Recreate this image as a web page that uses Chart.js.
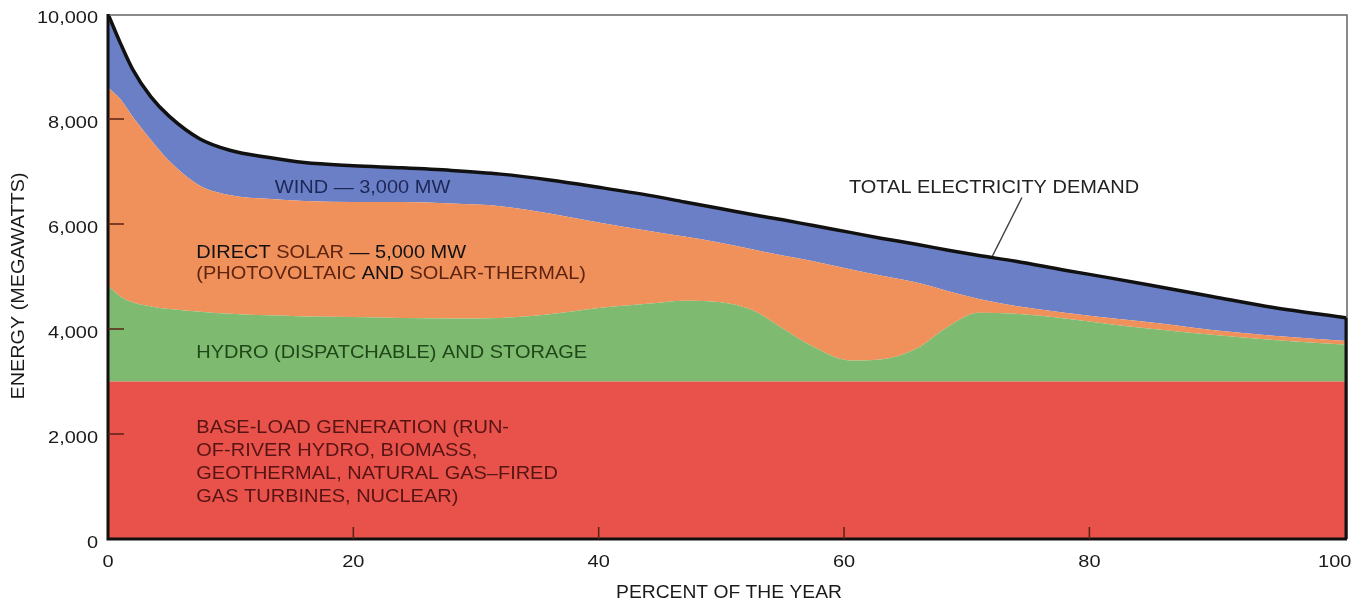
<!DOCTYPE html>
<html>
<head>
<meta charset="utf-8">
<script src="https://cdn.jsdelivr.net/npm/chart.js@4.4.1/dist/chart.umd.min.js"></script>
<style>
  html, body { margin: 0; padding: 0; background: #fff; }
  #wrap { width: 1353px; height: 604px; }
</style>
</head>
<body>
<div id="wrap"><canvas id="chart"></canvas></div>
<script>
// percent of the year (x positions shared by every layer)
const pctOfYear = [0, 1, 2, 3.5, 5, 7.5, 10, 13, 16, 20, 24, 28, 32, 36, 40, 44, 47, 50, 52.5, 55, 57.5, 60.5, 63, 66, 68.5, 71, 74, 78, 82, 86, 90, 95, 101];

// top edge of each layer, in megawatts
const baseLoadMW = [3000, 3000, 3000, 3000, 3000, 3000, 3000, 3000, 3000, 3000, 3000, 3000, 3000, 3000, 3000, 3000, 3000, 3000, 3000, 3000, 3000, 3000, 3000, 3000, 3000, 3000, 3000, 3000, 3000, 3000, 3000, 3000, 3000];
const hydroTopMW = [4830, 4620, 4510, 4430, 4380, 4330, 4290, 4260, 4240, 4230, 4210, 4200, 4210, 4280, 4400, 4480, 4540, 4510, 4360, 4010, 3660, 3400, 3420, 3640, 4050, 4310, 4290, 4200, 4080, 3980, 3890, 3790, 3700];
const solarTopMW = [8600, 8380, 8050, 7600, 7200, 6730, 6550, 6480, 6440, 6420, 6420, 6390, 6340, 6200, 6030, 5870, 5760, 5640, 5520, 5400, 5290, 5140, 5020, 4880, 4720, 4570, 4440, 4310, 4200, 4100, 3980, 3870, 3770];
const totalDemandMW = [10000, 9450, 8950, 8420, 8050, 7620, 7400, 7270, 7170, 7110, 7070, 7020, 6950, 6840, 6700, 6550, 6420, 6290, 6180, 6080, 5970, 5840, 5730, 5610, 5500, 5400, 5290, 5120, 4960, 4790, 4620, 4410, 4210];

// axis ticks
const xTickValues = [0, 20, 40, 60, 80, 100];
const yTickValues = [0, 2000, 4000, 6000, 8000, 10000];

const FONT = '"Liberation Sans", Arial, sans-serif';

function pts(ys) {
  return pctOfYear.map((x, i) => ({ x: x, y: ys[i] }));
}

// draw text stretched horizontally like the printed figure
function stretchText(ctx, text, x, y, o) {
  ctx.save();
  ctx.font = o.font;
  ctx.fillStyle = o.color;
  ctx.textBaseline = 'middle';
  ctx.textAlign = o.align || 'left';
  ctx.translate(x, y);
  if (o.rotate) ctx.rotate(o.rotate);
  ctx.scale(o.sx || 1, 1);
  ctx.fillText(text, 0, 0);
  const w = ctx.measureText(text).width * (o.sx || 1);
  ctx.restore();
  return w;
}

function partsText(ctx, parts, x, y, o) {
  let cx = x;
  parts.forEach(p => {
    cx += stretchText(ctx, p[0], cx, y, { font: o.font, sx: o.sx, color: p[1] });
  });
}

const decor = {
  id: 'decor',
  beforeDraw(chart) {
    const ctx = chart.ctx;
    ctx.save();
    ctx.fillStyle = '#fff';
    ctx.fillRect(0, 0, chart.width, chart.height);
    ctx.restore();
  },
  afterDatasetsDraw(chart) {
    const ctx = chart.ctx;
    const xs = chart.scales.x, ys = chart.scales.y;
    const a = chart.chartArea;
    const X = v => xs.getPixelForValue(v);
    const Y = v => ys.getPixelForValue(v);

    // frame: thin grey top/right, heavy black left/bottom
    ctx.save();
    ctx.strokeStyle = '#666';
    ctx.lineWidth = 1.5;
    ctx.beginPath();
    ctx.moveTo(a.left, a.top + 1);
    ctx.lineTo(a.right, a.top + 1);
    ctx.lineTo(a.right, a.bottom);
    ctx.stroke();

    ctx.strokeStyle = '#111';
    ctx.lineWidth = 3;
    ctx.beginPath();
    ctx.moveTo(a.left, a.top);
    ctx.lineTo(a.left, a.bottom);
    ctx.lineTo(a.right, a.bottom);
    ctx.stroke();
    // right edge of the stacked block
    ctx.beginPath();
    ctx.moveTo(a.right - 1, a.bottom);
    ctx.lineTo(a.right - 1, Y(totalDemandMW[totalDemandMW.length - 1]));
    ctx.stroke();

    // small inside tick marks
    ctx.strokeStyle = '#5a2214';
    ctx.lineWidth = 1.5;
    yTickValues.slice(1, -1).forEach(v => {
      ctx.beginPath();
      ctx.moveTo(a.left, Y(v));
      ctx.lineTo(a.left + 16, Y(v));
      ctx.stroke();
    });
    xTickValues.slice(1, -1).forEach(v => {
      ctx.beginPath();
      ctx.moveTo(X(v), a.bottom);
      ctx.lineTo(X(v), a.bottom - 12);
      ctx.stroke();
    });
    ctx.restore();

    // tick labels
    const tickFont = '16.5px ' + FONT;
    yTickValues.forEach(v => {
      stretchText(ctx, v.toLocaleString('en-US'), 98, Y(v) + 4, { font: tickFont, sx: 1.21, color: '#1a1a1a', align: 'right' });
    });
    xTickValues.forEach(v => {
      stretchText(ctx, String(v), X(v), 562, { font: tickFont, sx: 1.21, color: '#1a1a1a', align: 'center' });
    });

    // axis titles
    const titleFont = '18px ' + FONT;
    stretchText(ctx, 'PERCENT OF THE YEAR', 729, 593, { font: titleFont, sx: 1.07, color: '#1a1a1a', align: 'center' });
    stretchText(ctx, 'ENERGY (MEGAWATTS)', 19, 286, { font: titleFont, sx: 1.1, color: '#1a1a1a', align: 'center', rotate: -Math.PI / 2 });

    // layer labels
    const lf = '18.5px ' + FONT;
    const sx = 1.08;
    stretchText(ctx, 'WIND \u2014 3,000 MW', X(13.6), Y(6690), { font: lf, sx: sx, color: '#1d2757' });
    partsText(ctx, [['DIRECT ', '#111'], ['SOLAR ', '#5e2410'], ['\u2014 5,000 MW', '#111']], X(7.2), Y(5450), { font: lf, sx: sx });
    partsText(ctx, [['(PHOTOVOLTAIC ', '#5e2410'], ['AND ', '#111'], ['SOLAR-THERMAL)', '#5e2410']], X(7.2), Y(5040), { font: lf, sx: sx });
    stretchText(ctx, 'HYDRO (DISPATCHABLE) AND STORAGE', X(7.2), Y(3552), { font: lf, sx: sx, color: '#1f4718' });
    const baseLines = ['BASE-LOAD GENERATION (RUN-', 'OF-RIVER HYDRO, BIOMASS,', 'GEOTHERMAL, NATURAL GAS\u2013FIRED', 'GAS TURBINES, NUCLEAR)'];
    const baseY = [2124, 1686, 1248, 810];
    baseLines.forEach((t, i) => {
      stretchText(ctx, t, X(7.2), Y(baseY[i]), { font: lf, sx: sx, color: '#571414' });
    });
    stretchText(ctx, 'TOTAL ELECTRICITY DEMAND', X(60.4), Y(6690), { font: lf, sx: sx, color: '#222' });

    // pointer to the demand line
    ctx.save();
    ctx.strokeStyle = '#444';
    ctx.lineWidth = 1.5;
    ctx.beginPath();
    ctx.moveTo(X(74.5), Y(6505));
    ctx.lineTo(X(72.1), Y(5390));
    ctx.stroke();
    ctx.restore();
  }
};

const layer = (label, ys, color, fill) => ({
  label: label,
  data: pts(ys),
  backgroundColor: color,
  borderWidth: 0,
  borderColor: color,
  pointRadius: 0,
  fill: fill,
  cubicInterpolationMode: 'monotone'
});

new Chart(document.getElementById('chart'), {
  type: 'line',
  data: {
    datasets: [
      layer('Base-load generation', baseLoadMW, '#e8524a', 'origin'),
      layer('Hydro and storage', hydroTopMW, '#7eba70', '-1'),
      layer('Direct solar', solarTopMW, '#f0905a', '-1'),
      Object.assign(layer('Wind', totalDemandMW, '#6b7fc7', '-1'), { borderColor: '#111', borderWidth: 3.5 })
    ]
  },
  options: {
    responsive: true,
    maintainAspectRatio: false,
    animation: false,
    layout: { padding: { top: 14, right: 6, left: 0, bottom: 0 } },
    plugins: { legend: { display: false }, tooltip: { enabled: false } },
    scales: {
      x: {
        type: 'linear',
        min: 0,
        max: 101,
        grid: { display: false },
        border: { display: false },
        ticks: { display: false },
        afterFit: s => { s.height = 65; }
      },
      y: {
        min: 0,
        max: 10000,
        grid: { display: false },
        border: { display: false },
        ticks: { display: false },
        afterFit: s => { s.width = 108; }
      }
    }
  },
  plugins: [decor]
});
</script>
</body>
</html>
